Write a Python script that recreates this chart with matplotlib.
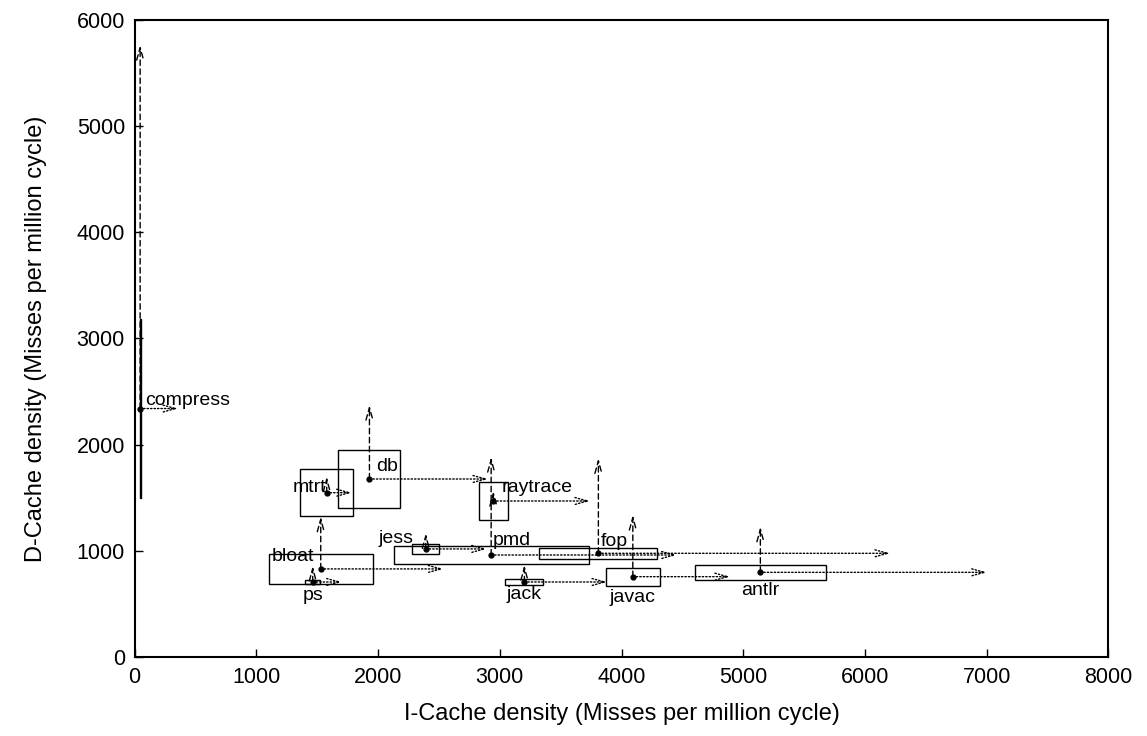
import matplotlib
matplotlib.use('Agg')
import matplotlib.pyplot as plt
from matplotlib.patches import Rectangle

plt.rcParams['font.family'] = ['Liberation Sans', 'DejaVu Sans']

# benchmark data: mean, std (box half-size), max (arrow tip)
names = ['compress', 'mtrt', 'db', 'bloat', 'ps', 'jess', 'pmd', 'fop',
         'raytrace', 'jack', 'javac', 'antlr']
icache_mean = [45, 1578, 1929, 1529, 1463, 2392, 2929, 3810, 2947, 3202, 4093, 5141]
dcache_mean = [2340, 1548, 1677, 831, 708, 1019, 962, 978, 1470, 708, 758, 799]
icache_std = [4, 218, 255, 426, 60, 111, 801, 485, 117, 156, 222, 536]
dcache_std = [838, 220, 270, 145, 15, 49, 81, 50, 178, 31, 86, 71]
icache_max = [357, 1784, 2904, 2537, 1702, 2893, 4454, 6207, 3742, 3882, 4892, 7002]
dcache_max = [5760, 1699, 2373, 1323, 859, 1166, 1884, 1872, 1564, 868, 1339, 1229]

# label placement relative to the mean point (pixels, alignment)
label_pos = {
    'compress': (5, 8, 'left'),
    'mtrt': (0, 5, 'right'),
    'db': (7, 12, 'left'),
    'bloat': (-7, 12, 'right'),
    'ps': (0, -14, 'center'),
    'jess': (-12, 10, 'right'),
    'pmd': (2, 14, 'left'),
    'fop': (2, 12, 'left'),
    'raytrace': (8, 14, 'left'),
    'jack': (0, -13, 'center'),
    'javac': (0, -21, 'center'),
    'antlr': (0, -18, 'center'),
}

fig = plt.figure(figsize=(11.47, 7.36), dpi=100)
ax = fig.add_axes([0.1174, 0.1070, 0.8489, 0.8665])

for i, name in enumerate(names):
    mx, my = icache_mean[i], dcache_mean[i]
    sx, sy = icache_std[i], dcache_std[i]
    ax.add_patch(Rectangle((mx - sx, my - sy), 2 * sx, 2 * sy, fill=False,
                           edgecolor='black', lw=1.0, zorder=2))
    ax.annotate('', xy=(mx, dcache_max[i]), xytext=(mx, my),
                arrowprops=dict(arrowstyle='->,head_length=0.9,head_width=0.25',
                                linestyle=(0, (4, 2.5)), lw=1.0, color='black',
                                shrinkA=0, shrinkB=0))
    ax.annotate('', xy=(icache_max[i], my), xytext=(mx, my),
                arrowprops=dict(arrowstyle='->,head_length=0.9,head_width=0.25',
                                linestyle=(0, (1, 1.5)), lw=1.0, color='black',
                                shrinkA=0, shrinkB=0))
    ax.plot(mx, my, 'o', color='black', markersize=3.5, zorder=4)
    dx, dy, ha = label_pos[name]
    ax.annotate(name, xy=(mx, my), xytext=(dx, dy), textcoords='offset pixels',
                ha=ha, va='center', fontsize=14)

ax.set_xlim(0, 8000)
ax.set_ylim(0, 6000)
ax.set_xticks(range(0, 8001, 1000))
ax.set_yticks(range(0, 6001, 1000))
ax.tick_params(direction='in', length=6, width=1, labelsize=15.5, pad=7)
for s in ax.spines.values():
    s.set_linewidth(1.5)
ax.set_xlabel('I-Cache density (Misses per million cycle)', fontsize=17, labelpad=11)
ax.set_ylabel('D-Cache density (Misses per million cycle)', fontsize=17, labelpad=21)

fig.savefig('out.png', dpi=100)
